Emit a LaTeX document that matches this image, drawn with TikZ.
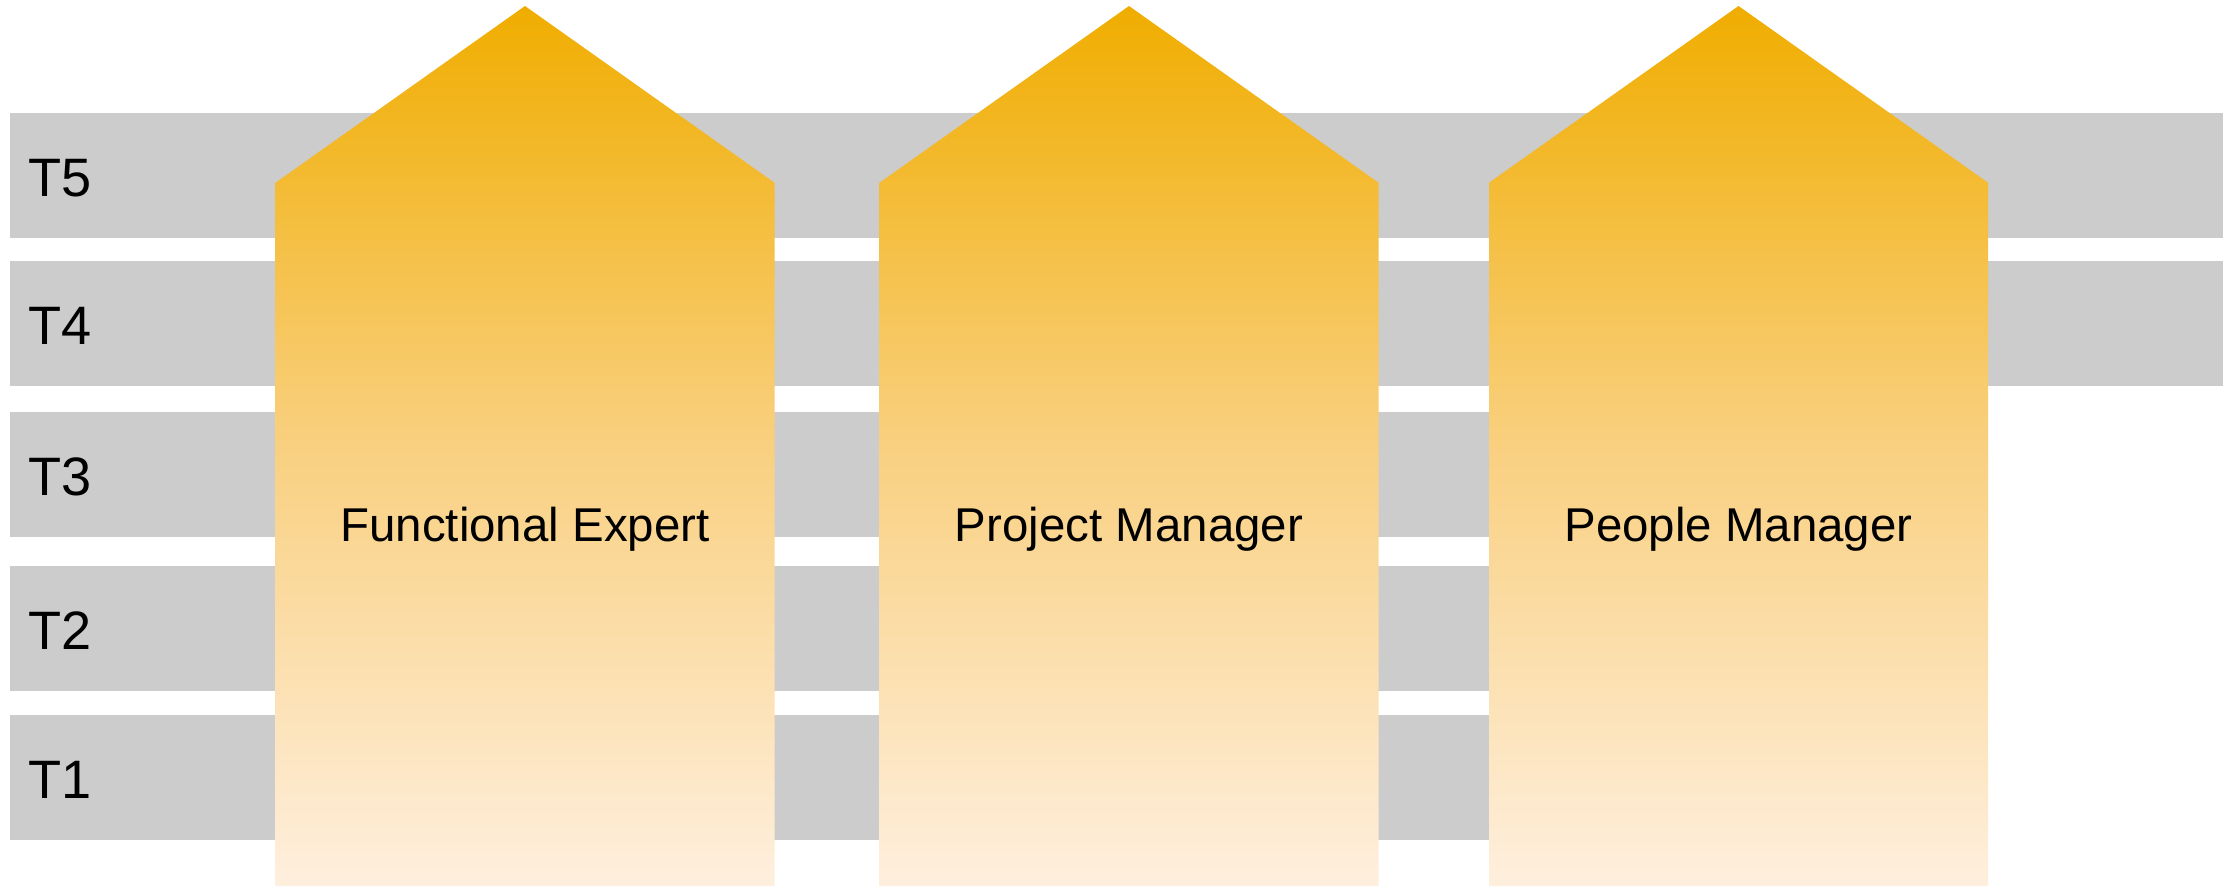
\documentclass[tikz,border=0pt]{standalone}
\usepackage{fontspec}
\setmainfont{Liberation Sans}
\definecolor{bandgray}{HTML}{CCCCCC}
\definecolor{arrtop}{RGB}{240,173,0}
\definecolor{arrmid}{RGB}{249,208,128}
\definecolor{arrbot}{RGB}{254,239,222}
\pgfdeclareverticalshading{arrowshade}{100bp}{color(0bp)=(arrbot); color(25bp)=(arrbot); color(50bp)=(arrmid); color(75bp)=(arrtop); color(100bp)=(arrtop)}
\begin{document}
\begin{tikzpicture}[x=0.02cm,y=-0.02cm,
  bandbox/.style={fill=bandgray,draw=none},
  tlabel/.style={anchor=base west,inner sep=0pt,font=\fontsize{30.8}{36}\selectfont},
  alabel/.style={anchor=base,inner sep=0pt,font=\fontsize{27}{32}\selectfont},
  arrowbody/.style={shading=arrowshade,draw=none}]
\useasboundingbox (0,0) rectangle (2233,886);
% tier bands
\fill[bandbox] (10,113) rectangle (2223,238);
\fill[bandbox] (10,261) rectangle (2223,386);
\fill[bandbox] (10,412) rectangle (1700,537);
\fill[bandbox] (10,566) rectangle (1700,691);
\fill[bandbox] (10,715) rectangle (1700,840);
\node[tlabel] (t5) at (28,196) {T5};
\node[tlabel] (t4) at (28,344) {T4};
\node[tlabel] (t3) at (28,495) {T3};
\node[tlabel] (t2) at (28,649) {T2};
\node[tlabel] (t1) at (28,798) {T1};
% arrows
\foreach \c/\n/\t in {525/fe/Functional Expert,1129/pm/Project Manager,1738.5/pp/People Manager}{
  \shade[arrowbody] ({\c-249.5},886) -- ({\c-249.5},182.7) -- (\c,6) -- ({\c+249.5},182.7) -- ({\c+249.5},886) -- cycle;
  \node[alabel] (\n) at (\c,541.7) {\t};
}
\end{tikzpicture}
\end{document}
